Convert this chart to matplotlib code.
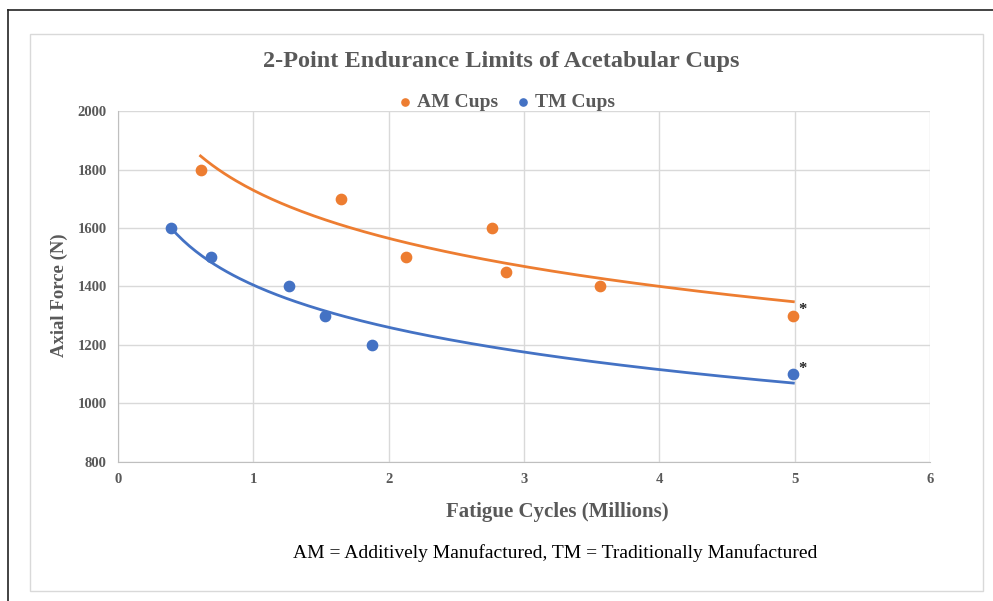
# 2-point endurance limits of acetabular cups, AM vs TM, with log trendlines

import matplotlib.pyplot as plt
import numpy as np

# Data (cycles in millions, force in N)
am_cycles = [0.61, 1.65, 2.13, 2.76, 2.87, 3.56, 4.99]
am_force = [1800, 1700, 1500, 1600, 1450, 1400, 1300]
tm_cycles = [0.39, 0.69, 1.26, 1.53, 1.88, 4.99]
tm_force = [1600, 1500, 1400, 1300, 1200, 1100]

x_ticks = [0, 1, 2, 3, 4, 5, 6]
y_ticks = [800, 1000, 1200, 1400, 1600, 1800, 2000]

orange = '#ED7D31'
blue = '#4472C4'
grey = '#595959'

plt.rcParams['font.family'] = ['Liberation Serif', 'DejaVu Serif']

fig = plt.figure(figsize=(9.93, 6.01), dpi=100)
ax = fig.add_axes([0.1188, 0.2313, 0.8178, 0.584])

# frames: outer black line (left/top) and inner light grey chart box
fig.add_artist(plt.Line2D([8/993, 8/993], [0, 1 - 10/601], color='#222222', lw=1.2))
fig.add_artist(plt.Line2D([8/993, 1], [1 - 10/601, 1 - 10/601], color='#222222', lw=1.2))
fig.add_artist(plt.Rectangle((30/993, 1 - 591/601), 953/993, 557/601,
                             fill=False, edgecolor='#d9d9d9', lw=1))

ax.scatter(am_cycles, am_force, s=55, color=orange, label='AM Cups', zorder=3)
ax.scatter(tm_cycles, tm_force, s=55, color=blue, label='TM Cups', zorder=3)

# logarithmic trendlines like Excel
for xs, ys, c in [(am_cycles, am_force, orange), (tm_cycles, tm_force, blue)]:
    b, a = np.polyfit(np.log(xs), ys, 1)
    xx = np.linspace(min(xs), max(xs), 200)
    ax.plot(xx, a + b * np.log(xx), color=c, lw=2, zorder=2)

ax.text(am_cycles[-1] + 0.04, am_force[-1] + 5, '*', fontsize=12, fontweight='bold', color='#222222')
ax.text(tm_cycles[-1] + 0.04, tm_force[-1] + 5, '*', fontsize=12, fontweight='bold', color='#222222')

ax.set_xlim(0, 6)
ax.set_ylim(800, 2000)
ax.set_xticks(x_ticks)
ax.set_yticks(y_ticks)
ax.grid(color='#d9d9d9', lw=1)
ax.set_axisbelow(True)
for s in ['top', 'right']:
    ax.spines[s].set_visible(False)
for s in ['left', 'bottom']:
    ax.spines[s].set_color('#bfbfbf')
ax.tick_params(length=0, colors=grey, labelsize=10.5, pad=8)
for lab in ax.get_xticklabels() + ax.get_yticklabels():
    lab.set_fontweight('bold')

ax.set_xlabel('Fatigue Cycles (Millions)', fontsize=15, fontweight='bold', color=grey)
ax.xaxis.set_label_coords((557 - 118) / 812, -0.115)
ax.set_ylabel('Axial Force (N)', fontsize=13.5, fontweight='bold', color=grey)
ax.yaxis.set_label_coords(-0.062, 0.475)

fig.text(0.505, 1 - 62/601, '2-Point Endurance Limits of Acetabular Cups', ha='center', va='center',
         fontsize=17.5, fontweight='bold', color=grey)

leg = ax.legend(loc='center', bbox_to_anchor=(0.4735, 1.025), ncol=2, frameon=False,
                handletextpad=-0.2, handlelength=1.6, columnspacing=0.5, markerscale=0.7,
                prop={'size': 14, 'weight': 'bold'})
for t in leg.get_texts():
    t.set_color(grey)

fig.text(0.5589, 1 - 553/601, 'AM = Additively Manufactured, TM = Traditionally Manufactured',
         ha='center', va='center', fontsize=14, color='black')

fig.savefig('out.png', dpi=100)
